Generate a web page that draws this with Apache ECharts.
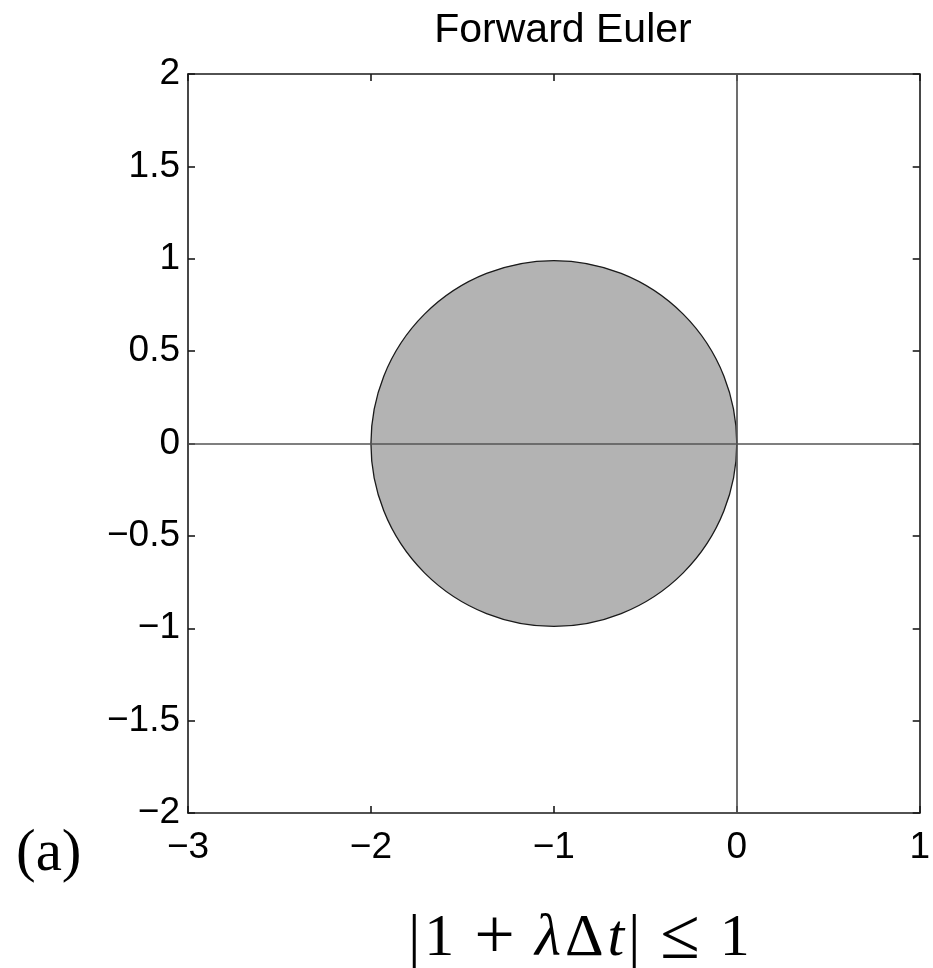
<!DOCTYPE html>
<html>
<head>
<meta charset="utf-8">
<script src="https://cdn.jsdelivr.net/npm/echarts@6/dist/echarts.min.js"></script>
<style>
html,body{margin:0;padding:0;background:#fff;}
#chart{width:933px;height:968px;}
</style>
</head>
<body>
<div id="chart"></div>
<script>
// ---- data ----
const xRange = [-3, 1];
const xInterval = 1;
const yRange = [-2, 2];
const yInterval = 0.5;
const circleCenter = [-1, 0];
const circleRadius = 1;
const zeroLineX = 0;
const zeroLineY = 0;
const titleText = 'Forward Euler';
const panelLabel = '(a)';

const fmt = v => String(v).replace('-', '\u2212');
const tickFont = {fontFamily: 'Liberation Sans, Arial, sans-serif', fontSize: 37, color: '#000'};
const axisLineStyle = {color: '#1a1a1a', width: 1.6};
const serif = 'Liberation Serif, DejaVu Serif, serif';

const chart = echarts.init(document.getElementById('chart'), null, {renderer: 'canvas'});
chart.setOption({
  backgroundColor: '#fff',
  animation: false,
  title: [
    {text: titleText, left: 558, top: 5, textAlign: 'center',
     textStyle: {fontFamily: 'Liberation Sans, Arial, sans-serif', fontSize: 41, fontWeight: 'normal', color: '#000'}},
    {text: panelLabel, left: 11, top: 820,
     textStyle: {fontFamily: serif, fontSize: 59, fontWeight: 'normal', color: '#000'}},
    {text: '{r||}{r|1}{op|+}{i|λ}{r|Δ}{i|t}{r||}{op|≤}{r|1}', left: 574, top: 902, textAlign: 'center',
     textStyle: {fontWeight: 'normal', rich: {
       r: {fontFamily: serif, fontSize: 60, lineHeight: 64, fontWeight: 'normal', color: '#000', padding: [0, 2, 0, 2]},
       i: {fontFamily: serif, fontSize: 60, lineHeight: 64, fontStyle: 'italic', fontWeight: 'normal', color: '#000', padding: [0, 2, 0, 2]},
       op: {fontFamily: serif, fontSize: 72, lineHeight: 64, fontWeight: 'normal', color: '#000', padding: [0, 18, 0, 18]}
     }}}
  ],
  grid: {left: 188, right: 7, top: 74, bottom: 155, containLabel: false},
  xAxis: [
    {type: 'value', min: xRange[0], max: xRange[1], interval: xInterval, position: 'bottom',
     axisLine: {show: true, onZero: false, lineStyle: axisLineStyle},
     axisTick: {show: true, inside: true, length: 7, lineStyle: axisLineStyle},
     axisLabel: Object.assign({formatter: fmt, margin: 16}, tickFont),
     splitLine: {show: false}},
    {type: 'value', min: xRange[0], max: xRange[1], interval: xInterval, position: 'top',
     axisLine: {show: true, onZero: false, lineStyle: axisLineStyle},
     axisTick: {show: true, inside: true, length: 7, lineStyle: axisLineStyle},
     axisLabel: {show: false}, splitLine: {show: false}}
  ],
  yAxis: [
    {type: 'value', min: yRange[0], max: yRange[1], interval: yInterval, position: 'left',
     axisLine: {show: true, onZero: false, lineStyle: axisLineStyle},
     axisTick: {show: true, inside: true, length: 7, lineStyle: axisLineStyle},
     axisLabel: Object.assign({formatter: fmt, margin: 8}, tickFont),
     splitLine: {show: false}},
    {type: 'value', min: yRange[0], max: yRange[1], interval: yInterval, position: 'right',
     axisLine: {show: true, onZero: false, lineStyle: axisLineStyle},
     axisTick: {show: true, inside: true, length: 7, lineStyle: axisLineStyle},
     axisLabel: {show: false}, splitLine: {show: false}}
  ],
  series: [
    {
      type: 'custom',
      xAxisIndex: 0, yAxisIndex: 0,
      data: [[circleCenter[0], circleCenter[1], circleRadius]],
      renderItem: function (params, api) {
        const c = api.coord([api.value(0), api.value(1)]);
        const r = api.size([api.value(2), 0])[0];
        return {type: 'circle', shape: {cx: c[0], cy: c[1], r: r},
                style: {fill: '#b3b3b3', stroke: '#1a1a1a', lineWidth: 1.3}};
      },
      markLine: {
        silent: true, symbol: 'none', animation: false,
        label: {show: false},
        lineStyle: {color: '#555', width: 1.7, type: 'solid'},
        data: [{xAxis: zeroLineX}, {yAxis: zeroLineY}]
      }
    }
  ]
});
</script>
</body>
</html>
